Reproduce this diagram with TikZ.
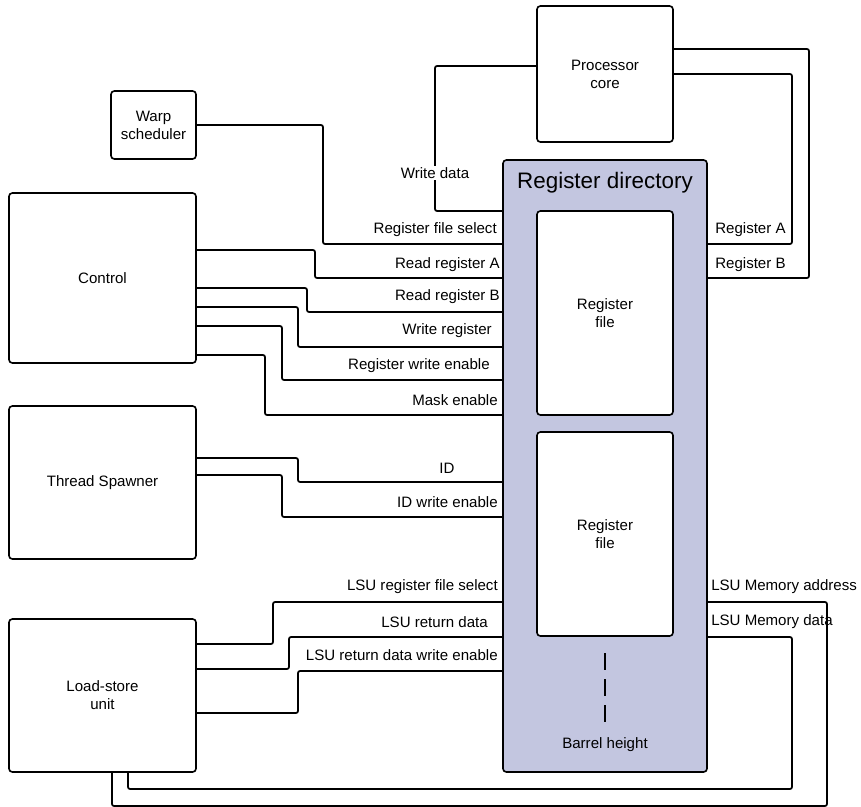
\documentclass[tikz,border=0pt]{standalone}
\usepackage{fontspec}
\setmainfont{Liberation Sans}
\definecolor{dirblue}{HTML}{C3C6E0}
\begin{document}
\begin{tikzpicture}[x=0.75pt,y=-0.75pt,
  box/.style={draw, line width=1.2pt, rounded corners=2.5pt, fill=white, inner sep=0pt, align=center, font=\fontsize{11.3}{13.6}\selectfont},
  wire/.style={draw, line width=1.3pt, rounded corners=1.5pt},
  barrel/.style={draw, line width=1.3pt, dash pattern=on 12.75pt off 6.75pt},
  lbl/.style={inner sep=0pt, font=\fontsize{11.3}{13.6}\selectfont}]
\useasboundingbox (0,0) rectangle (861,807);

% blocks on the left
\node[box, minimum width=63.75pt, minimum height=51pt] (warp) at (153.5,125) {Warp\\scheduler};
\node[box, minimum width=140.25pt, minimum height=127.5pt] (ctrl) at (102.5,278) {Control};
\node[box, minimum width=140.25pt, minimum height=114.75pt] (spawn) at (102.5,482.5) {Thread Spawner};
\node[box, minimum width=140.25pt, minimum height=114.75pt] (lsu) at (102.5,695.5) {Load-store\\unit};

% core and register directory
\node[box, minimum width=102pt, minimum height=102pt] (core) at (605,74) {Processor\\core};
\node[box, fill=dirblue, minimum width=153pt, minimum height=459pt] (regdir) at (605,466) {};
\node[lbl, font=\fontsize{16.8}{20}\selectfont] (title) at (605,183) {Register directory};
\node[box, minimum width=102pt, minimum height=153pt] (rf1) at (605,313) {Register\\file};
\node[box, minimum width=102pt, minimum height=153pt] (rf2) at (605,534) {Register\\file};
\coordinate (bar1) at (605,653);
\coordinate (bar2) at (605,722);
\path[barrel] (bar1) -- (bar2);
\node[lbl] (barlbl) at (605,745) {Barrel height};

% wires into the directory
\path[wire] (warp.east) -| (323,244) -- (regdir.west |- 0,244);
\path[wire] (core.west |- 0,66) -| (435,211) -- (regdir.west |- 0,211);
\node[lbl, fill=white, inner sep=1pt] (wdata) at (435,173) {Write data};

\path[wire] (ctrl.east |- 0,250) -| (315,278) -- (regdir.west |- 0,278);
\path[wire] (ctrl.east |- 0,288) -| (307,312) -- (regdir.west |- 0,312);
\path[wire] (ctrl.east |- 0,307) -| (298,347) -- (regdir.west |- 0,347);
\path[wire] (ctrl.east |- 0,326) -| (282,380) -- (regdir.west |- 0,380);
\path[wire] (ctrl.east |- 0,355) -| (265,415) -- (regdir.west |- 0,415);

\path[wire] (spawn.east |- 0,458) -| (298,482) -- (regdir.west |- 0,482);
\path[wire] (spawn.east |- 0,475) -| (282,517) -- (regdir.west |- 0,517);

\path[wire] (lsu.east |- 0,644) -| (273,602) -- (regdir.west |- 0,602);
\path[wire] (lsu.east |- 0,669) -| (289,637) -- (regdir.west |- 0,637);
\path[wire] (lsu.east |- 0,713) -| (298,671) -- (regdir.west |- 0,671);

% wires out of the directory
\path[wire] (regdir.east |- 0,244) -| (792,74) -- (core.east |- 0,74);
\path[wire] (regdir.east |- 0,278) -| (809,49) -- (core.east |- 0,49);
\path[wire] (lsu.south -| 128,0) |- (792,789) |- (regdir.east |- 0,637);
\path[wire] (lsu.south -| 112,0) |- (827,806) |- (regdir.east |- 0,602);

% signal names
\node[lbl, anchor=east] (l1) at (497,230) {Register file select};
\node[lbl, anchor=east] (l2) at (500,265) {Read register A};
\node[lbl, anchor=east] (l3) at (500,297) {Read register B};
\node[lbl, anchor=east] (l4) at (492,331) {Write register};
\node[lbl, anchor=east] (l5) at (490,366) {Register write enable};
\node[lbl, anchor=east] (l6) at (498,400) {Mask enable};
\node[lbl] (l7) at (447,468) {ID};
\node[lbl, anchor=east] (l8) at (498,502) {ID write enable};
\node[lbl, anchor=east] (l9) at (498,587) {LSU register file select};
\node[lbl, anchor=east] (l10) at (488,622) {LSU return data};
\node[lbl, anchor=east] (l11) at (498,655) {LSU return data write enable};
\node[lbl, anchor=west] (r1) at (715,230) {Register A};
\node[lbl, anchor=west] (r2) at (715,265) {Register B};
\node[lbl, anchor=west] (r3) at (711,587) {LSU Memory address};
\node[lbl, anchor=west] (r4) at (711,622) {LSU Memory data};
\end{tikzpicture}
\end{document}
